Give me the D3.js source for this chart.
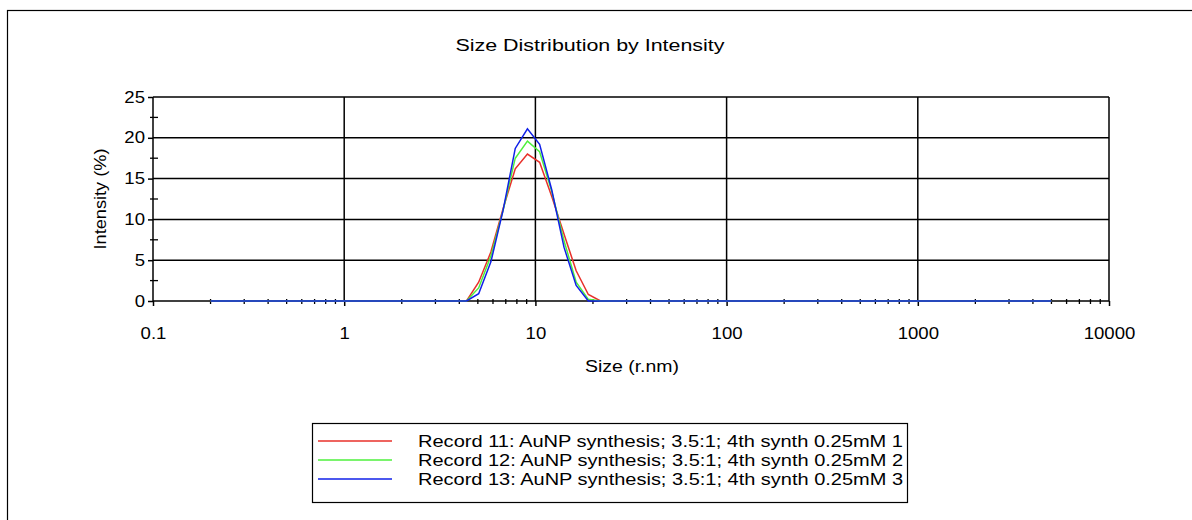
<!DOCTYPE html>
<html><head><meta charset="utf-8">
<script src="https://cdn.jsdelivr.net/npm/d3@7/dist/d3.min.js"></script>
<style>
html,body{margin:0;padding:0;background:#fff;}
svg{display:block;font-family:"Liberation Sans",Arial,sans-serif;}
</style></head>
<body><svg id="c" width="1192" height="520"></svg>
<script>
// Size classes (radius, nm)
const sizes = [0.2,0.2316,0.2683,0.3107,0.3598,0.4166,0.4825,0.5585,0.647,0.7495,
  0.868,1.005,1.164,1.348,1.561,1.808,2.094,2.425,2.808,3.252,
  3.766,4.361,5.05,5.85,6.775,7.845,9.085,10.52,12.18,14.11,
  16.34,18.92,21.91,25.38,29.39,34.03,39.41,45.64,52.85,61.2,
  70.89,82.1,95.07,110.1,127.5,147.7,171,198.1,229.4,265.6,
  307.6,356.2,412.5,477.7,553.1,640.5,742,859,995,1153,
  1335,1546,1790,2073,2401,2780,3220,3728,4318,5000];
const record11 = [0,0,0,0,0,0,0,0,0,0, 0,0,0,0,0,0,0,0,0,0,
  0,0,2.3,6.0,11.3,16.2,18.0,17.0,12.8,8.2,
  3.7,0.8,0,0,0,0,0,0,0,0, 0,0,0,0,0,0,0,0,0,0,
  0,0,0,0,0,0,0,0,0,0, 0,0,0,0,0,0,0,0,0,0];
const record12 = [0,0,0,0,0,0,0,0,0,0, 0,0,0,0,0,0,0,0,0,0,
  0,0,1.6,5.5,11.1,17.5,19.6,18.3,13.4,7.4,
  2.3,0.2,0,0,0,0,0,0,0,0, 0,0,0,0,0,0,0,0,0,0,
  0,0,0,0,0,0,0,0,0,0, 0,0,0,0,0,0,0,0,0,0];
const record13 = [0,0,0,0,0,0,0,0,0,0, 0,0,0,0,0,0,0,0,0,0,
  0,0,0.9,4.8,11.1,18.7,21.1,19.2,13.6,6.6,
  1.9,0,0,0,0,0,0,0,0,0, 0,0,0,0,0,0,0,0,0,0,
  0,0,0,0,0,0,0,0,0,0, 0,0,0,0,0,0,0,0,0,0];
const seriesNames = ["Record 11: AuNP synthesis; 3.5:1; 4th synth 0.25mM 1",
  "Record 12: AuNP synthesis; 3.5:1; 4th synth 0.25mM 2",
  "Record 13: AuNP synthesis; 3.5:1; 4th synth 0.25mM 3"];
const seriesColors = ["#e8302a","#4ef03c","#1020e8"];
const xTicks = [0.1,1,10,100,1000,10000];
const yTicks = [0,5,10,15,20,25];
const yMinor = [2.5,7.5,12.5,17.5,22.5];

const FONT = "'Liberation Sans',Arial,sans-serif";
const svg = d3.select("#c");
// outer frame
svg.append("rect").attr("x",7.5).attr("y",10.5).attr("width",1200).attr("height",600)
  .attr("fill","none").attr("stroke","#000").attr("stroke-width",1.2);

const L=153, R=1109, T=97, B=301;
const x = d3.scaleLog().domain([0.1,10000]).range([L,R]);
const y = d3.scaleLinear().domain([0,25]).range([B,T]);

function stretch(sel, k){
  sel.each(function(){
    const w = this.getComputedTextLength();
    d3.select(this).attr("textLength", w*k).attr("lengthAdjust","spacingAndGlyphs");
  });
}

svg.append("text").attr("x",590).attr("y",51).attr("text-anchor","middle")
  .attr("font-size",16).attr("textLength",269).attr("lengthAdjust","spacingAndGlyphs")
  .text("Size Distribution by Intensity");

const g = svg.append("g");
g.selectAll("line.hg").data(yTicks).join("line")
  .attr("x1",L).attr("x2",R).attr("y1",d=>y(d)).attr("y2",d=>y(d))
  .attr("stroke","#000").attr("stroke-width",1.5);
g.selectAll("line.vg").data(xTicks).join("line")
  .attr("x1",d=>x(d)).attr("x2",d=>x(d)).attr("y1",T).attr("y2",B)
  .attr("stroke","#000").attr("stroke-width",1.5);

// x axis
const minorX = [];
for (let e=-1;e<4;e++) for (let m=2;m<=9;m++) minorX.push(m*Math.pow(10,e));
const xAxis = d3.axisBottom(x).tickValues(xTicks).tickSize(5).tickFormat(d=>String(d));
const xa = svg.append("g").attr("transform",`translate(0,${B})`).call(xAxis);
xa.select(".domain").remove();
xa.selectAll(".tick line").attr("stroke","#000").attr("stroke-width",1.5);
xa.selectAll(".tick text").attr("font-size",16).attr("fill","#000")
  .attr("y",27).attr("dy","0.71em").attr("font-family",FONT).call(stretch,1.16);
svg.append("g").selectAll("line").data(minorX).join("line")
  .attr("x1",d=>x(d)).attr("x2",d=>x(d)).attr("y1",B-2).attr("y2",B+3)
  .attr("stroke","#000").attr("stroke-width",1.3);

// y axis
const yAxis = d3.axisLeft(y).tickValues(yTicks).tickSize(5).tickFormat(d=>String(d));
const ya = svg.append("g").attr("transform",`translate(${L},0)`).call(yAxis);
ya.select(".domain").remove();
ya.selectAll(".tick line").attr("stroke","#000").attr("stroke-width",1.5);
ya.selectAll(".tick text").attr("font-size",16).attr("fill","#000").attr("x",-8)
  .attr("font-family",FONT).call(stretch,1.16);
svg.append("g").selectAll("line").data(yMinor).join("line")
  .attr("x1",L-3).attr("x2",L+5).attr("y1",d=>y(d)).attr("y2",d=>y(d))
  .attr("stroke","#000").attr("stroke-width",1.3);

// series
const line = d3.line().x(d=>x(d[0])).y(d=>y(d[1]));
[record11,record12,record13].forEach((vals,i)=>{
  svg.append("path").datum(sizes.map((s,j)=>[s,vals[j]]))
    .attr("d",line).attr("fill","none").attr("stroke",seriesColors[i]).attr("stroke-width",1.5);
});

// axis titles
svg.append("text").attr("x",632).attr("y",372).attr("text-anchor","middle")
  .attr("font-size",16).attr("textLength",94).attr("lengthAdjust","spacingAndGlyphs")
  .text("Size (r.nm)");
svg.append("text").attr("transform",`translate(106,${(T+B)/2}) rotate(-90)`)
  .attr("text-anchor","middle").attr("font-size",16)
  .attr("textLength",101).attr("lengthAdjust","spacingAndGlyphs").text("Intensity (%)");

// legend
const lg = svg.append("g");
lg.append("rect").attr("x",312.5).attr("y",423.5).attr("width",595).attr("height",79)
  .attr("fill","#fff").attr("stroke","#000").attr("stroke-width",1.2);
seriesNames.forEach((n,i)=>{
  const yy = 441 + i*19;
  lg.append("line").attr("x1",318).attr("x2",392).attr("y1",yy).attr("y2",yy)
    .attr("stroke",seriesColors[i]).attr("stroke-width",1.5);
  lg.append("text").attr("x",418).attr("y",yy+6).attr("font-size",16)
    .attr("textLength",485).attr("lengthAdjust","spacingAndGlyphs").text(n);
});
</script></body></html>
